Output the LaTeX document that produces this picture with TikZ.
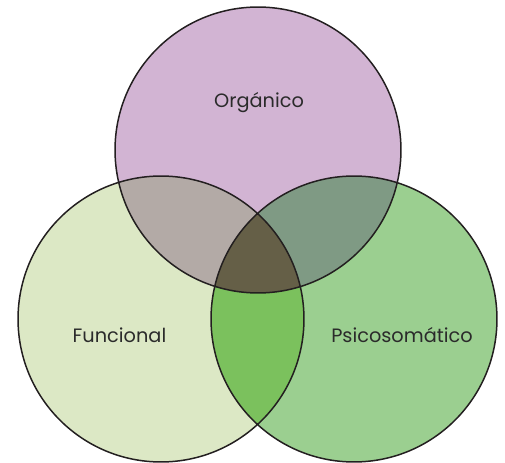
\documentclass[tikz,border=0pt]{standalone}
\usepackage{fontspec}
\setmainfont{Poppins}
\definecolor{orgcol}{HTML}{D2B4D3}
\definecolor{funcol}{HTML}{DCE8C5}
\definecolor{psicol}{HTML}{9BCF90}
\definecolor{orgfun}{HTML}{B3AAA6}
\definecolor{orgpsi}{HTML}{7F9A84}
\definecolor{funpsi}{HTML}{7BC15D}
\definecolor{allthree}{HTML}{655F47}
\definecolor{rimcol}{HTML}{231F20}
\definecolor{labelcol}{HTML}{2B2B2B}
\newcommand{\vennrad}{2.86cm}
\newcommand{\orgcircle}{(258,150) circle (\vennrad)}
\newcommand{\funcircle}{(161,319) circle (\vennrad)}
\newcommand{\psicircle}{(354,319) circle (\vennrad)}
\tikzset{
  venn rim/.style={draw=rimcol, line width=0.85pt},
  venn label/.style={text=labelcol, anchor=base, inner sep=0pt,
    font=\fontsize{11}{13}\selectfont}
}

\begin{document}
\begin{tikzpicture}[x=0.02cm, y=-0.02cm]
	\useasboundingbox (0,0) rectangle (505,463);
	% The circles:
	\fill[orgcol] \orgcircle;
	\fill[funcol] \funcircle;
	\fill[psicol] \psicircle;
	% Overlaps with the top circle:
	\begin{scope}
		\clip \orgcircle;
		\fill[orgfun] \funcircle;
		\fill[orgpsi] \psicircle;
	\end{scope}
	% Overlaps of the two lower circles:
	\begin{scope}
		\clip \funcircle;
		\fill[funpsi] \psicircle;
		\clip \orgcircle;
		\fill[allthree] \psicircle;
	\end{scope}
	% Outlines:
	\path[venn rim] \orgcircle \funcircle \psicircle;
	% Labels:
	\node[venn label] (organico) at (259,107.7) {Orgánico};
	\node[venn label] (funcional) at (119.5,342.7) {Funcional};
	\node[venn label] (psicosomatico) at (402,342.7) {Psicosomático};
\end{tikzpicture}
\end{document}
